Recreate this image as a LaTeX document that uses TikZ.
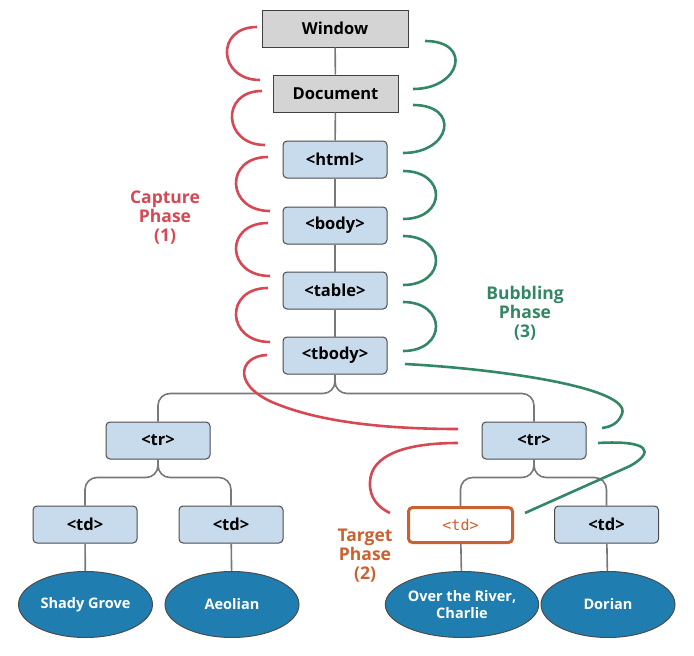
\documentclass[tikz,border=0pt]{standalone}
\usepackage{fontspec}
\setmainfont{Open Sans}
\newfontfamily\codefont{DejaVu Sans Mono}
\usetikzlibrary{calc,shapes.geometric}
\definecolor{capred}{RGB}{214,72,84}
\definecolor{bubgreen}{RGB}{52,135,100}
\definecolor{tgtorange}{RGB}{200,98,48}
\definecolor{boxblue}{RGB}{200,219,237}
\definecolor{boxgray}{RGB}{212,212,212}
\definecolor{leafblue}{RGB}{31,125,176}
\definecolor{edgegray}{RGB}{120,120,120}
\tikzset{
  topbox/.style={draw=black!75,line width=1pt,fill=boxgray,minimum height=37pt,font=\bfseries\fontsize{16.5}{18}\selectfont,inner sep=0pt},
  elbox/.style={draw=black!70,line width=1pt,fill=boxblue,rounded corners=4pt,minimum width=104pt,minimum height=37pt,font=\bfseries\fontsize{16.5}{18}\selectfont,inner sep=0pt},
  tgtbox/.style={draw=tgtorange,line width=3pt,fill=white,rounded corners=4pt,minimum width=104pt,minimum height=35pt,font=\codefont\fontsize{15}{17}\selectfont,text=tgtorange,inner sep=0pt},
  leaf/.style={ellipse,draw=black!70,line width=1pt,fill=leafblue,minimum width=134pt,minimum height=66pt,inner sep=0pt,text=white,align=center,font=\bfseries\fontsize{14.5}{17}\selectfont},
  tree/.style={draw=edgegray,line width=1.6pt,rounded corners=12pt},
  capline/.style={draw=capred,line width=2.6pt},
  bubline/.style={draw=bubgreen,line width=2.6pt},
  phaselabel/.style={align=center,font=\bfseries\fontsize{17.5}{19}\selectfont},
}
\begin{document}
\begin{tikzpicture}[x=1pt,y=-1pt]
\useasboundingbox (0,0) rectangle (694,656);
% nodes
\node[topbox,minimum width=146pt] (win) at (335,28.5) {Window};
\node[topbox,minimum width=125pt] (doc) at (335.5,93.5) {Document};
\node[elbox] (html) at (335,159.5) {<html>};
\node[elbox] (body) at (335,225.5) {<body>};
\node[elbox] (table) at (335,290.5) {<table>};
\node[elbox] (tbody) at (335,355.5) {<tbody>};
\node[elbox] (trl) at (158,440.5) {<tr>};
\node[elbox] (trr) at (534,440.5) {<tr>};
\node[elbox] (tda) at (85,524.5) {<td>};
\node[elbox] (tdb) at (231,524.5) {<td>};
\node[tgtbox] (tdt) at (460.5,525) {<td>};
\node[elbox] (tdd) at (606.5,524.5) {<td>};
\node[leaf] (la) at (85.5,604.5) {Shady Grove};
\node[leaf] (lb) at (232,604.5) {Aeolian};
\node[leaf] (lc) at (462,604.5) {Over the River,\\Charlie};
\node[leaf] (ld) at (608,604.5) {Dorian};
% tree edges
\draw[tree] (win) -- (doc);
\draw[tree] (doc) -- (html);
\draw[tree] (html) -- (body);
\draw[tree] (body) -- (table);
\draw[tree] (table) -- (tbody);
\draw[tree] (tbody.south) -- ++(0,19) -| (trl.north);
\draw[tree] (tbody.south) -- ++(0,19) -| (trr.north);
\draw[tree] (trl.south) -- ++(0,18) -| (tda.north);
\draw[tree] (trl.south) -- ++(0,18) -| (tdb.north);
\draw[tree] (trr.south) -- ++(0,18) -| (tdt.north);
\draw[tree] (trr.south) -- ++(0,18) -| (tdd.north);
\draw[tree] (tda) -- (la);
\draw[tree] (tdb) -- (lb);
\draw[tree] (tdt) -- (lc);
\draw[tree] (tdd) -- (ld);
% capture arcs
\coordinate (r1a) at (257,27);  \coordinate (r1b) at (260,80);
\coordinate (r2a) at (262,91);  \coordinate (r2b) at (265,145);
\coordinate (r3a) at (268,157); \coordinate (r3b) at (270,211);
\coordinate (r4a) at (268,223); \coordinate (r4b) at (270,276);
\coordinate (r5a) at (268,288); \coordinate (r5b) at (270,342);
\coordinate (r6a) at (267,355); \coordinate (r6b) at (458,429);
\coordinate (r7a) at (458,443); \coordinate (r7b) at (390,513);
\draw[capline] (r1a) .. controls +(-42,0) and +(-42,0) .. (r1b);
\draw[capline] (r2a) .. controls +(-42,0) and +(-42,0) .. (r2b);
\draw[capline] (r3a) .. controls +(-44,0) and +(-44,0) .. (r3b);
\draw[capline] (r4a) .. controls +(-44,0) and +(-44,0) .. (r4b);
\draw[capline] (r5a) .. controls +(-44,0) and +(-44,0) .. (r5b);
\draw[capline] (r6a) .. controls (238,356) and (230,388) .. (282,406) .. controls (322,421) and (380,429) .. (r6b);
\draw[capline] (r7a) .. controls (405,443) and (371,455) .. (370,482) .. controls (369,498) and (379,508) .. (r7b);
% bubbling arcs
\coordinate (g1a) at (413,89);  \coordinate (g1b) at (425,41);
\coordinate (g2a) at (403,153); \coordinate (g2b) at (413,105);
\coordinate (g3a) at (403,219); \coordinate (g3b) at (403,171);
\coordinate (g4a) at (403,285); \coordinate (g4b) at (403,236);
\coordinate (g5a) at (403,351); \coordinate (g5b) at (403,302);
\coordinate (g6a) at (405,364); \coordinate (g6b) at (602,428);
\coordinate (g7a) at (598,443); \coordinate (g7b) at (525,513);
\draw[bubline] (g1a) .. controls +(48,0) and +(48,0) .. (g1b);
\draw[bubline] (g2a) .. controls +(48,0) and +(48,0) .. (g2b);
\draw[bubline] (g3a) .. controls +(44,0) and +(44,0) .. (g3b);
\draw[bubline] (g4a) .. controls +(44,0) and +(44,0) .. (g4b);
\draw[bubline] (g5a) .. controls +(44,0) and +(44,0) .. (g5b);
\draw[bubline] (g6a) .. controls (500,369) and (632,388) .. (622,414) .. controls (618,424) and (610,427) .. (g6b);
\draw[bubline] (g7a) .. controls (650,440) and (655,452) .. (630,466) -- (g7b);
% labels
\node[phaselabel,text=capred] (capl) at (165,218) {Capture\\Phase\\(1)};
\node[phaselabel,text=bubgreen] (bubl) at (525,313) {Bubbling\\Phase\\(3)};
\node[phaselabel,text=tgtorange] (tgtl) at (365,556) {Target\\Phase\\(2)};
\end{tikzpicture}
\end{document}
